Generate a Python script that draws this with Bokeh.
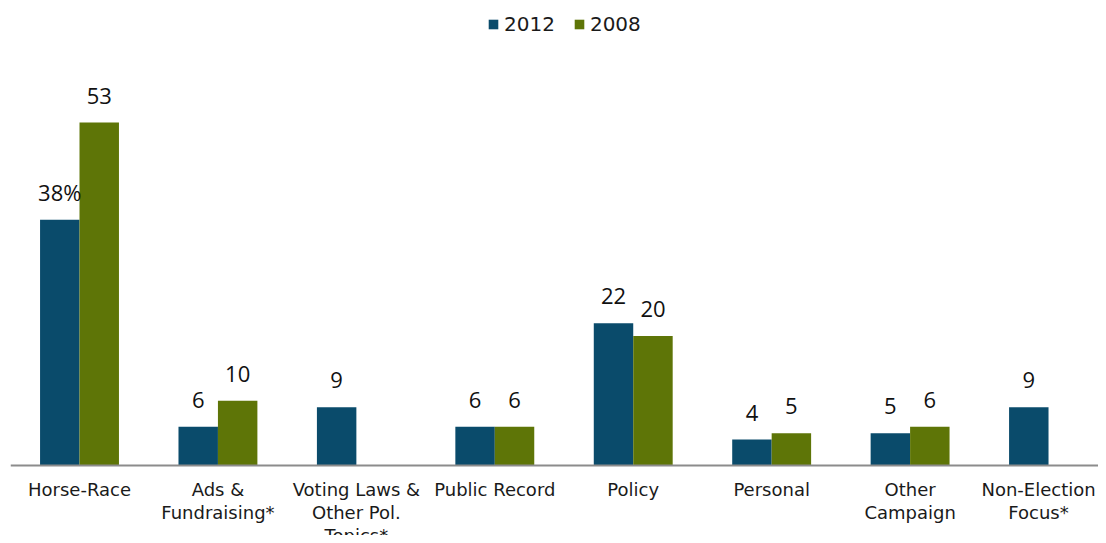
from bokeh.plotting import figure
from bokeh.models import ColumnDataSource, Range1d, LabelSet, Span, Legend, LegendItem
from bokeh.transform import dodge
from bokeh.core.properties import value
from bokeh.embed import file_html
from bokeh.resources import INLINE

categories = ["Horse-Race", "Ads &\nFundraising*", "Voting Laws &\nOther Pol.\nTopics*",
              "Public Record", "Policy", "Personal", "Other\nCampaign", "Non-Election\nFocus*"]
values_2012 = [38, 6, 9, 6, 22, 4, 5, 9]
values_2008 = [53, 10, None, 6, 20, 5, 6, None]
series_names = ["2012", "2008"]
colors = ["#0a4b6b", "#5e7507"]

idx = list(range(len(categories)))
BAR_W = 0.285
OFF = BAR_W / 2

p = figure(width=1098, height=535, output_backend="svg", toolbar_location=None,
           x_range=Range1d(-0.4985, 7.361), y_range=Range1d(-10.82, 71.56),
           min_border_left=10, min_border_right=0, min_border_top=2, min_border_bottom=0)
p.xaxis.visible = False
p.yaxis.visible = False
p.grid.visible = False
p.outline_line_color = None

renderers = []
for name, vals, col, off in [(series_names[0], values_2012, colors[0], -OFF),
                             (series_names[1], values_2008, colors[1], OFF)]:
    xs = [i for i, v in zip(idx, vals) if v is not None]
    ys = [v for v in vals if v is not None]
    labels = [str(v) for v in ys]
    if name == "2012":
        labels[0] = labels[0] + "%"
    src = ColumnDataSource(dict(x=xs, top=ys, label=labels))
    r = p.vbar(x=dodge("x", off), top="top", bottom=0, width=BAR_W, source=src,
               fill_color=col, line_color=None)
    renderers.append((name, r))
    ls = LabelSet(x=dodge("x", off), y="top", text="label", source=src,
                  text_align="center", text_baseline="alphabetic", y_offset=19,
                  text_font=value("Open Sans"), text_font_size="22px", text_color="#111111")
    p.add_layout(ls)

# baseline
p.add_layout(Span(location=0, dimension="width", line_color="#8c8c8c", line_width=2))

# category labels (last one nudged left so it is not clipped by the figure edge)
x_offsets = [0] * (len(idx) - 1) + [-10]
cat_src = ColumnDataSource(dict(x=idx, y=[0] * len(idx), text=categories, xo=x_offsets))
p.text(x="x", y="y", text="text", source=cat_src, text_align="center", text_baseline="top",
       x_offset="xo", y_offset=14, text_font=value("DejaVu Sans"), text_font_size="18px",
       text_line_height=1.09, text_color="#1a1a1a")

legend = Legend(items=[LegendItem(label=n, renderers=[r]) for n, r in renderers],
                orientation="horizontal", location=(477, 499),
                glyph_width=12, glyph_height=12, label_standoff=5, spacing=18,
                padding=0, margin=0, border_line_color=None, background_fill_alpha=0,
                label_text_font="DejaVu Sans", label_text_font_size="20px",
                label_text_color="#1a1a1a")
p.add_layout(legend)

open("out.html", "w").write(file_html(p, INLINE))
